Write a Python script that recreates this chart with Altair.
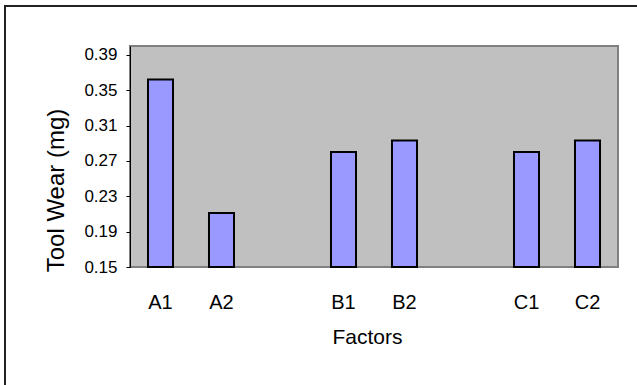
import altair as alt
import pandas as pd

categories = ["A1", "A2", " ", "B1", "B2", "  ", "C1", "C2"]
bar_labels = ["A1", "A2", "B1", "B2", "C1", "C2"]
bar_values = [0.362, 0.211, 0.280, 0.293, 0.280, 0.293]
y_ticks = [0.15, 0.19, 0.23, 0.27, 0.31, 0.35, 0.39]

df = pd.DataFrame({"factor": bar_labels, "wear": bar_values})

FONT = "Liberation Sans"
W, H = 488, 221

x_enc = alt.X(
    "factor:N",
    sort=categories,
    scale=alt.Scale(domain=categories, paddingInner=0.59, paddingOuter=0.295),
    axis=alt.Axis(
        title="Factors",
        labelAngle=0,
        ticks=False,
        domain=False,
        labelFontSize=20,
        labelFont=FONT,
        labelColor="black",
        labelBaseline="middle",
        labelPadding=35,
        titleFont=FONT,
        titleFontSize=21,
        titleFontWeight="normal",
        titleColor="black",
        titleX=237,
        titleY=70,
        titleBaseline="middle",
        titleAlign="center",
    ),
)

y_enc = alt.Y(
    "wear:Q",
    scale=alt.Scale(domain=[0.15, 0.40], zero=False, nice=False),
    axis=alt.Axis(
        title="Tool Wear (mg)",
        values=y_ticks,
        format=".2f",
        grid=False,
        domainColor="black",
        domainWidth=1,
        tickColor="black",
        tickSize=4,
        labelPadding=9,
        labelFontSize=17,
        labelFont=FONT,
        labelColor="black",
        titleFont=FONT,
        titleFontSize=24,
        titleFontWeight="normal",
        titleColor="black",
        titleAngle=270,
        titleX=-74,
        titleY=144,
        titleAlign="center",
        titleBaseline="middle",
    ),
)

bars = alt.Chart(df).mark_bar(
    fill="#9999FF", stroke="black", strokeWidth=2
).encode(
    x=x_enc,
    y=y_enc,
    y2=alt.datum(0.15),
)

frame = alt.Chart(df).mark_rect(
    fill=None, stroke="#222222", strokeWidth=2
).encode(
    x=alt.value(-125), x2=alt.value(W + 40),
    y=alt.value(-40), y2=alt.value(H + 140),
)

chart = alt.layer(frame, bars).properties(
    width=W, height=H,
    autosize=alt.AutoSizeParams(type="none"),
    padding={"left": 130, "top": 46, "right": 19, "bottom": 118},
    background="white",
).configure_view(
    fill="#C0C0C0", stroke="#808080", strokeWidth=2
)

chart.save("out.html", embed_options={"renderer": "svg", "actions": False})
